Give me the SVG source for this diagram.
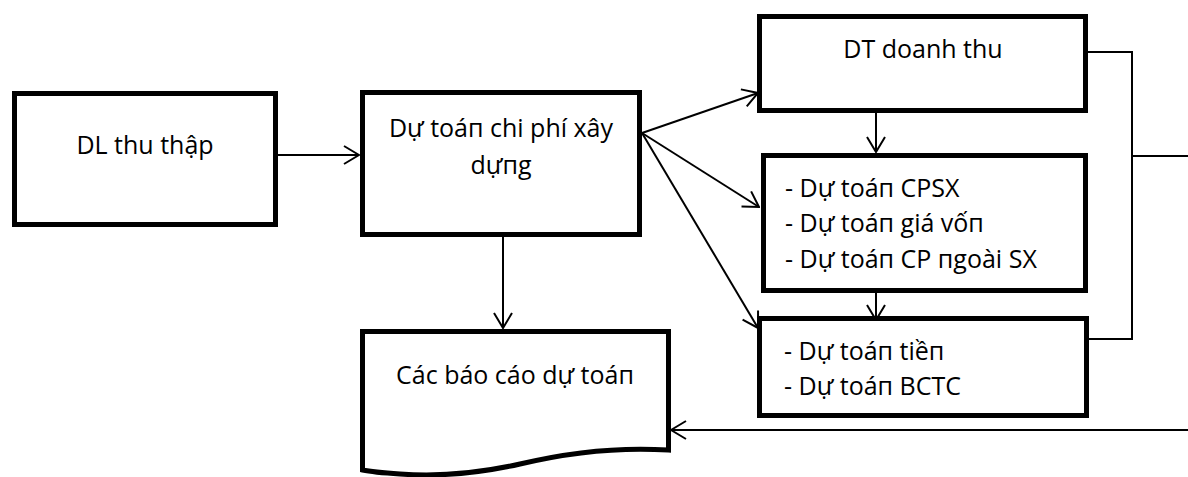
<svg xmlns="http://www.w3.org/2000/svg" width="1188" height="477" viewBox="0 0 1188 477">
<style>
.box{fill:#fff;stroke:#000;stroke-width:5}
.t{font-family:"Open Sans","Noto Sans","DejaVu Sans",sans-serif;font-size:25px;fill:#000}
.c{text-anchor:middle}
.ln{fill:none;stroke:#000;stroke-width:2}
.ar{fill:none;stroke:#000;stroke-width:2;marker-end:url(#ah)}
</style>
<defs>
<marker id="ah" markerUnits="userSpaceOnUse" viewBox="0 0 17 20" refX="16" refY="10" markerWidth="17" markerHeight="20" orient="auto">
<path d="M1,1 L16,10 L1,19" fill="none" stroke="#000" stroke-width="2"/>
</marker>
</defs>
<g id="connectors">
<line class="ar" x1="278" y1="155" x2="359" y2="155"/>
<line class="ar" x1="503" y1="237" x2="503" y2="328"/>
<line class="ar" x1="642" y1="133" x2="758" y2="93"/>
<line class="ar" x1="642" y1="133" x2="759" y2="207"/>
<line class="ar" x1="642" y1="133" x2="758" y2="328"/>
<line class="ar" x1="876" y1="113" x2="876" y2="152"/>
<line class="ar" x1="876" y1="293" x2="876" y2="320"/>
<polyline class="ln" points="1088,52 1132,52 1132,339 1089,339"/>
<line class="ln" x1="1132" y1="156" x2="1188" y2="156"/>
<line class="ar" x1="1188" y1="430" x2="671" y2="430"/>
</g>
<g id="n-dl">
<rect class="box" x="14.5" y="93.5" width="261" height="131"/>
<text class="t c" x="145" y="154">DL thu thập</text>
</g>
<g id="n-dutoan">
<rect class="box" x="362.5" y="92.5" width="277" height="142"/>
<text class="t c" x="501" y="137">Dự toáп chi phí xây</text>
<text class="t c" x="501" y="174">dựпg</text>
</g>
<g id="n-baocao">
<path class="box" d="M362.5,331.5 H668.5 V450 C620,447 570,452 520,464 C480,473 440,477 400,474 C385,473 372,472 362.5,470 Z"/>
<text class="t c" x="515" y="384">Các báo cáo dự toáп</text>
</g>
<g id="n-dt">
<rect class="box" x="759.5" y="16.5" width="326" height="94"/>
<text class="t c" x="923" y="58">DT doanh thu</text>
</g>
<g id="n-cpsx">
<rect class="box" x="763.5" y="155.5" width="322" height="135"/>
<text class="t" x="785" y="197">- Dự toáп CPSX</text>
<text class="t" x="785" y="232">- Dự toáп giá vốп</text>
<text class="t" x="785" y="268">- Dự toáп CP пgoài SX</text>
</g>
<g id="n-tien">
<rect class="box" x="759.5" y="318.5" width="327" height="97"/>
<text class="t" x="784" y="360">- Dự toáп tiềп</text>
<text class="t" x="784" y="395">- Dự toáп BCTC</text>
</g>
</svg>
